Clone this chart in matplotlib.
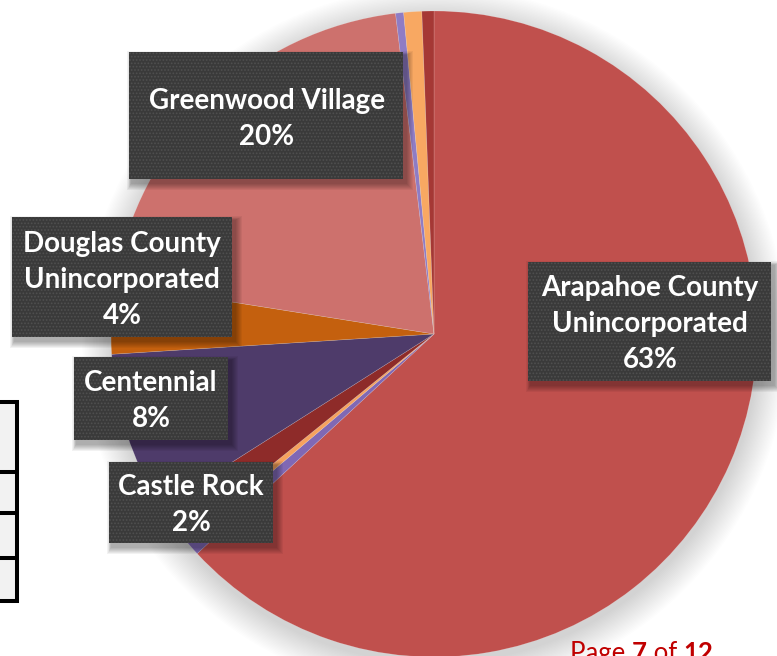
import matplotlib
matplotlib.use("Agg")
import matplotlib.pyplot as plt
from matplotlib.patches import Rectangle, Circle

# ---------------- data ----------------
slice_names = ["Arapahoe County Unincorporated", "Other 1", "Other 2", "Castle Rock",
               "Centennial", "Douglas County Unincorporated", "Greenwood Village",
               "Other 3", "Other 4", "Other 5"]
slice_shares = [63.1, 0.7, 0.4, 1.8, 8.0, 3.5, 20.6, 0.4, 0.9, 0.6]
slice_colors = ["#C0504D", "#8068B4", "#F6A25E", "#8E2B29", "#4E3B6A",
                "#C4600E", "#CD716D", "#8F7CC4", "#F8A862", "#A53835"]

label_names = ["Arapahoe County\nUnincorporated", "Greenwood Village",
               "Douglas County\nUnincorporated", "Centennial", "Castle Rock"]
label_pcts = ["63%", "20%", "4%", "8%", "2%"]

# ---------------- figure ----------------
W, H = 777, 656
fig = plt.figure(figsize=(W / 100, H / 100), dpi=100)
ax = fig.add_axes([0, 0, 1, 1])
ax.set_facecolor("white")

cx, cy, R = 434, 334, 323

# soft pie shadow
for i in range(22):
    ax.add_patch(Circle((cx + 1, cy + 6), R + 30 - i * 1.4, facecolor="black",
                        edgecolor="none", alpha=0.008, zorder=1))

wedges, _ = ax.pie(slice_shares, colors=slice_colors, startangle=-90, counterclock=True,
                   center=(cx, cy), radius=R, frame=True,
                   wedgeprops=dict(linewidth=0.4, edgecolor=(1, 1, 1, 0.25)))
for w in wedges:
    w.set_zorder(2)

# label boxes (x0, y0, x1, y1) in pixels, y downward
boxes = [(528, 262, 771, 381), (129, 52, 403, 179), (12, 217, 232, 337),
         (74, 357, 228, 440), (109, 462, 273, 543)]
text_centers = [(650, 324), (267, 119), (122, 280), (151, 401), (191, 505)]

plt.rcParams["hatch.linewidth"] = 0.8
for (x0, y0, x1, y1), (tx, ty), nm, pc in zip(boxes, text_centers, label_names, label_pcts):
    for k in range(7):
        ax.add_patch(Rectangle((x0 + 2 - k * 0.6, y0 + 3 - k * 0.6),
                               (x1 - x0) + 2 + k * 1.6, (y1 - y0) + 2 + k * 1.6,
                               facecolor="black", edgecolor="none", alpha=0.05, zorder=3))
    ax.add_patch(Rectangle((x0, y0), x1 - x0, y1 - y0, facecolor="#3A3A3A",
                           edgecolor="#505050", linewidth=0, hatch=".....", zorder=4))
    ax.text(tx, ty, nm + "\n" + pc, ha="center", va="center", color="white",
            fontsize=20, fontweight="bold", family="Lato", linespacing=1.47, zorder=5)

# partial table at left edge
table_rows = [402, 471.5, 513, 558, 601]
ax.add_patch(Rectangle((-5, table_rows[0]), 22, table_rows[-1] - table_rows[0],
                       facecolor="#F2F2F2", edgecolor="none", zorder=1))
for yy in table_rows:
    ax.plot([-5, 18.5], [yy, yy], color="black", linewidth=2.9, solid_capstyle="butt", zorder=2)
ax.plot([17, 17], [table_rows[0] - 1.5, table_rows[-1] + 1.5], color="black", linewidth=2.9,
        solid_capstyle="butt", zorder=2)

ax.set_xlim(0, W)
ax.set_ylim(H, 0)
ax.set_aspect("equal")
ax.axis("off")

# page footer (cut by the bottom edge, as in the reference)
fig.canvas.draw()
renderer = fig.canvas.get_renderer()
x = 570
for part, wt in [("Page ", "normal"), ("7", "bold"), (" of ", "normal"), ("12", "bold")]:
    t = ax.text(x, 661, part, ha="left", va="baseline", color="#C00000", fontsize=18.5,
                fontweight=wt, family="Lato", zorder=6)
    bb = t.get_window_extent(renderer)
    x += bb.width

fig.savefig("out.png", dpi=100, facecolor="white")
